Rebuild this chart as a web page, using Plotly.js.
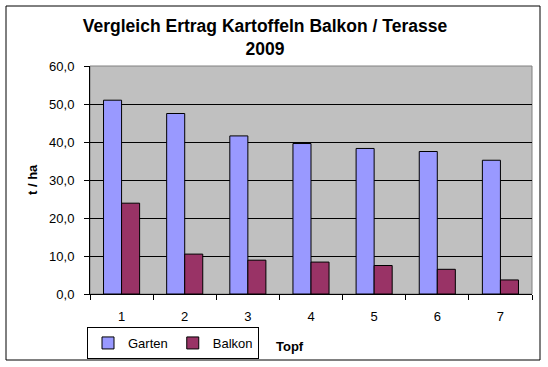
<!DOCTYPE html>
<html>
<head>
<meta charset="utf-8">
<script src="https://cdn.plot.ly/plotly-3.0.1.min.js"></script>
<style>
html,body{margin:0;padding:0;background:#fff;}
#chart{width:548px;height:367px;}
</style>
</head>
<body>
<div id="chart"></div>
<script>
const categories = ["1","2","3","4","5","6","7"];
const garten = [51.0, 47.5, 41.6, 39.6, 38.3, 37.5, 35.2];
const balkon = [23.9, 10.5, 8.9, 8.4, 7.5, 6.5, 3.7];
const seriesNames = ["Garten", "Balkon"];
const titleText = "Vergleich Ertrag Kartoffeln Balkon / Terasse<br>2009";
const yTitle = "t / ha";
const xTitle = "Topf";

const font = "Liberation Sans, Arial, sans-serif";

const traces = [
  {type:"bar", name:seriesNames[0], x:categories, y:garten,
   marker:{color:"#9999FF", line:{color:"#000", width:1}}},
  {type:"bar", name:seriesNames[1], x:categories, y:balkon,
   marker:{color:"#993366", line:{color:"#000", width:1}}}
];

const layout = {
  width:548, height:367,
  margin:{l:90, r:16, t:66, b:73},
  paper_bgcolor:"#fff",
  plot_bgcolor:"#C0C0C0",
  separators:",.",
  font:{family:font, size:13, color:"#000"},
  barmode:"group",
  bargap:0.4286,
  bargroupgap:0,
  showlegend:true,
  title:{text:titleText, x:265/548, xanchor:"center", xref:"container",
         y:1-32/367, yanchor:"top", yref:"container",
         font:{family:font, size:17.5, color:"#000", weight:"bold"}},
  xaxis:{type:"category", tickson:"boundaries", ticks:"outside", ticklen:5,
         tickcolor:"#000", showline:true, linecolor:"#000", linewidth:1,
         showgrid:false, tickfont:{size:13}, ticklabelstandoff:10, fixedrange:true},
  yaxis:{range:[0,60], dtick:10, tickformat:".1f", ticks:"outside", ticklen:5,
         tickcolor:"#000", showline:true, linecolor:"#000", linewidth:1,
         showgrid:true, gridcolor:"#000", gridwidth:1, zeroline:false,
         tickfont:{size:13}, ticklabelstandoff:7, fixedrange:true},
  legend:{orientation:"h", xref:"container", yref:"container",
          x:87/548, xanchor:"left", y:1-327/367, yanchor:"top",
          bordercolor:"#000", borderwidth:1, bgcolor:"#fff",
          font:{size:13}, itemwidth:30, tracegroupgap:0},
  annotations:[
    {text:"<b>"+yTitle+"</b>", xref:"paper", yref:"paper", x:(32-90)/442, y:(294-180)/228,
     textangle:-90, showarrow:false, font:{size:13}, xanchor:"center", yanchor:"middle"},
    {text:"<b>"+xTitle+"</b>", xref:"paper", yref:"paper", x:(290-90)/442, y:(294-346)/228,
     showarrow:false, font:{size:13}, xanchor:"center", yanchor:"middle"}
  ],
  shapes:[
    {type:"rect", xref:"paper", yref:"paper", x0:0, x1:1, y0:0, y1:1,
     line:{color:"#808080", width:1}, layer:"below"},
    {type:"rect", xref:"paper", yref:"paper", x0:(6-90)/442, x1:(540-90)/442,
     y0:(294-360)/228, y1:(294-6)/228, line:{color:"#000", width:1}}
  ]
};

Plotly.newPlot("chart", traces, layout, {displayModeBar:false, staticPlot:true});
</script>
</body>
</html>
